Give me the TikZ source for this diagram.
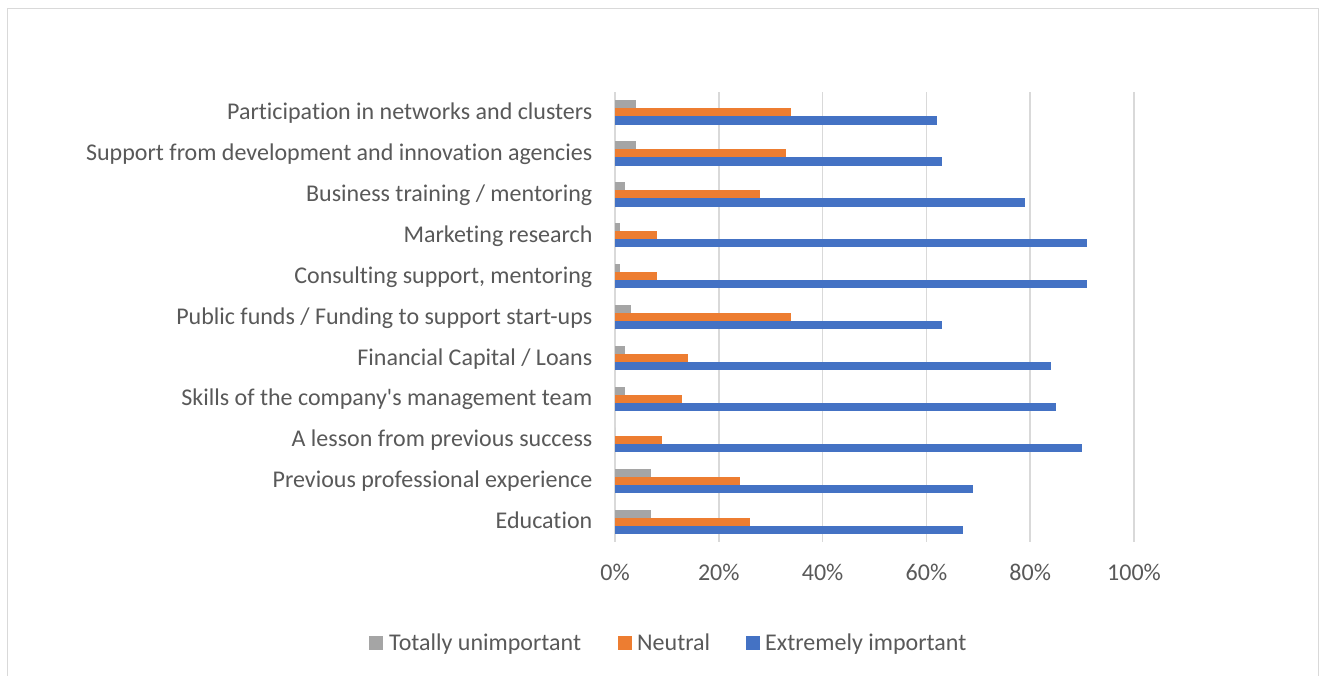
\documentclass[tikz,border=0pt]{standalone}
\usepackage{fontspec}
\setmainfont{Carlito}[Ligatures={TeXOff,NoCommon}]
\definecolor{cgray}{HTML}{A5A5A5}
\definecolor{corange}{HTML}{ED7D31}
\definecolor{cblue}{HTML}{4472C4}
\definecolor{ctext}{HTML}{595959}
\definecolor{cgrid}{HTML}{D9D9D9}
\begin{document}
\begin{tikzpicture}[x=1pt,y=-1pt,
  lab/.style={font=\fontsize{24}{28}\selectfont, text=ctext, inner sep=0pt},
  gridln/.style={draw=cgrid, line width=1.6pt},
  barg/.style={fill=cgray, draw=none},
  baro/.style={fill=corange, draw=none},
  barb/.style={fill=cblue, draw=none},
  key/.style={minimum size=14pt, inner sep=0pt, draw=none}]
\useasboundingbox (0,0) rectangle (1329,675);
\fill[white] (0,0) rectangle (1329,675);
% chart border
\draw[cgrid, line width=1.5pt] (7.5,680) -- (7.5,8.5) -- (1318.5,8.5) -- (1318.5,680);
% gridlines and axis labels
\foreach \v/\t in {0/0\%,20/20\%,40/40\%,60/60\%,80/80\%,100/100\%}{
  \coordinate (gt\v) at ({615+5.19*\v},92);
  \coordinate (gb\v) at ({615+5.19*\v},542);
  \draw[gridln] (gt\v) -- (gb\v);
  \node[lab, anchor=base] (ax\v) at ({615+5.19*\v},580) {\t};
}
% bars and category labels
\foreach \i/\g/\o/\b/\name in {
  0/4/34/62/{Participation in networks and clusters},
  1/4/33/63/{Support from development and innovation agencies},
  2/2/28/79/{Business training / mentoring},
  3/1/8/91/{Marketing research},
  4/1/8/91/{Consulting support, mentoring},
  5/3/34/63/{Public funds / Funding to support start-ups},
  6/2/14/84/{Financial Capital / Loans},
  7/2/13/85/{Skills of the company's management team},
  8/0/9/90/{A lesson from previous success},
  9/7/24/69/{Previous professional experience},
  10/7/26/67/{Education}}{
  \pgfmathsetmacro{\top}{100+40.95*\i}
  \fill[barg] (615,\top) rectangle ({615+5.19*\g},{\top+8.2});
  \fill[baro] (615,{\top+8.2}) rectangle ({615+5.19*\o},{\top+16.4});
  \fill[barb] (615,{\top+16.4}) rectangle ({615+5.19*\b},{\top+24.6});
  \node[lab, anchor=base east] (c\i) at (592.5,{\top+19.3}) {\name};
}
% legend
\node[key, fill=cgray] (k1) at (376,643) {};
\node[lab, anchor=base west] (l1) at (389,650) {Totally unimportant};
\node[key, fill=corange] (k2) at (625,643) {};
\node[lab, anchor=base west] (l2) at (637,650) {Neutral};
\node[key, fill=cblue] (k3) at (752.7,643) {};
\node[lab, anchor=base west] (l3) at (765,650) {Extremely important};
\end{tikzpicture}
\end{document}
